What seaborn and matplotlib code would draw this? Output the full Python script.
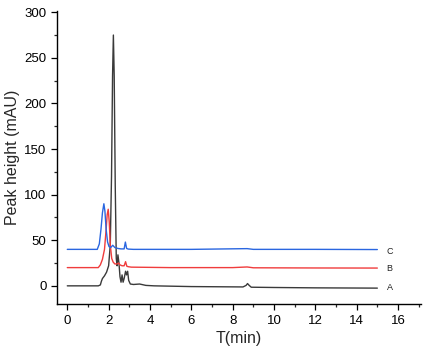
import matplotlib
matplotlib.use("Agg")
import matplotlib.pyplot as plt
import seaborn as sns
import pandas as pd
from matplotlib.ticker import MultipleLocator

# Trace A (black)
t_a = [0, 1.5, 1.6, 1.65, 1.7, 1.8, 1.9, 2.0, 2.08, 2.14, 2.19, 2.23, 2.27, 2.32, 2.37, 2.41, 2.45, 2.5, 2.55, 2.6, 2.65, 2.7, 2.75, 2.82, 2.87, 2.92, 2.97, 3.05, 3.2, 3.5, 3.8, 4.2, 6.0, 8.5, 8.65, 8.72, 8.8, 8.9, 10.0, 12.0, 15.0]
v_a = [0, 0, 1, 5, 8, 11, 15, 22, 45, 120, 230, 275, 230, 110, 30, 22, 34, 25, 10, 4, 12, 4, 8, 16, 12, 16, 6, 2, 1.5, 2, 0.5, 0, -0.8, -1.2, 0.5, 2.5, 0.5, -1.5, -1.8, -2.2, -2.5]

# Trace B (red)
t_b = [0, 1.5, 1.6, 1.7, 1.8, 1.88, 1.93, 1.98, 2.03, 2.08, 2.15, 2.22, 2.3, 2.4, 2.48, 2.55, 2.65, 2.75, 2.82, 2.88, 2.95, 3.1, 5.0, 8.0, 8.7, 9.0, 12.0, 15.0]
v_b = [20, 20, 23, 29, 40, 62, 78, 84, 70, 45, 30, 26, 24, 24, 25, 23, 22, 22, 26.5, 21.5, 21, 20.5, 20, 20, 20.7, 19.8, 19.6, 19.5]

# Trace C (blue)
t_c = [0, 1.45, 1.55, 1.63, 1.7, 1.77, 1.82, 1.88, 1.95, 2.02, 2.1, 2.2, 2.3, 2.45, 2.6, 2.75, 2.81, 2.87, 2.95, 3.2, 6.0, 8.7, 9.0, 12.0, 15.0]
v_c = [40, 40, 46, 62, 80, 90, 82, 62, 48, 43, 42, 44.5, 42, 41, 40.5, 40.5, 48, 41, 40.3, 40, 40, 40.8, 40, 40, 39.8]

labels = ["A", "B", "C"]
label_y = [-1.5, 18.5, 37.5]
colors = ["#3a3a3a", "#f03c3c", "#2a66e0"]

frames = []
for name, t, v in zip(labels, [t_a, t_b, t_c], [v_a, v_b, v_c]):
    frames.append(pd.DataFrame({"T": t, "H": v, "trace": name}))
df = pd.concat(frames, ignore_index=True)

sns.set_style("ticks")
plt.rcParams['font.family'] = ['Liberation Sans', 'DejaVu Sans']

fig = plt.figure(figsize=(4.25, 3.54), dpi=100)
ax = fig.add_axes([0.134, 0.141, 0.856, 0.827])
sns.lineplot(data=df, x="T", y="H", hue="trace", palette=dict(zip(labels, colors)),
             linewidth=1.0, legend=False, ax=ax, estimator=None, sort=False)

for lab, yy in zip(labels, label_y):
    ax.text(15.6, yy, lab, fontsize=6.5, ha="center", va="center", color="#222222")

ax.set_xlim(-0.5, 17.1)
ax.set_ylim(-20, 301)
ax.xaxis.set_major_locator(MultipleLocator(2))
ax.xaxis.set_minor_locator(MultipleLocator(1))
ax.yaxis.set_major_locator(MultipleLocator(50))
ax.yaxis.set_minor_locator(MultipleLocator(25))
ax.tick_params(which="major", direction="out", length=4, width=0.9, labelsize=9.5, colors="#000000")
ax.tick_params(which="minor", direction="out", length=2.5, width=0.9)
for s in ["top", "right"]:
    ax.spines[s].set_visible(False)
for s in ["left", "bottom"]:
    ax.spines[s].set_linewidth(1.0)
    ax.spines[s].set_color("#000000")
ax.set_xlabel("T(min)", fontsize=11.5, labelpad=3)
ax.set_ylabel("Peak height (mAU)", fontsize=11.5, labelpad=3)

fig.savefig("out.png", dpi=100)
